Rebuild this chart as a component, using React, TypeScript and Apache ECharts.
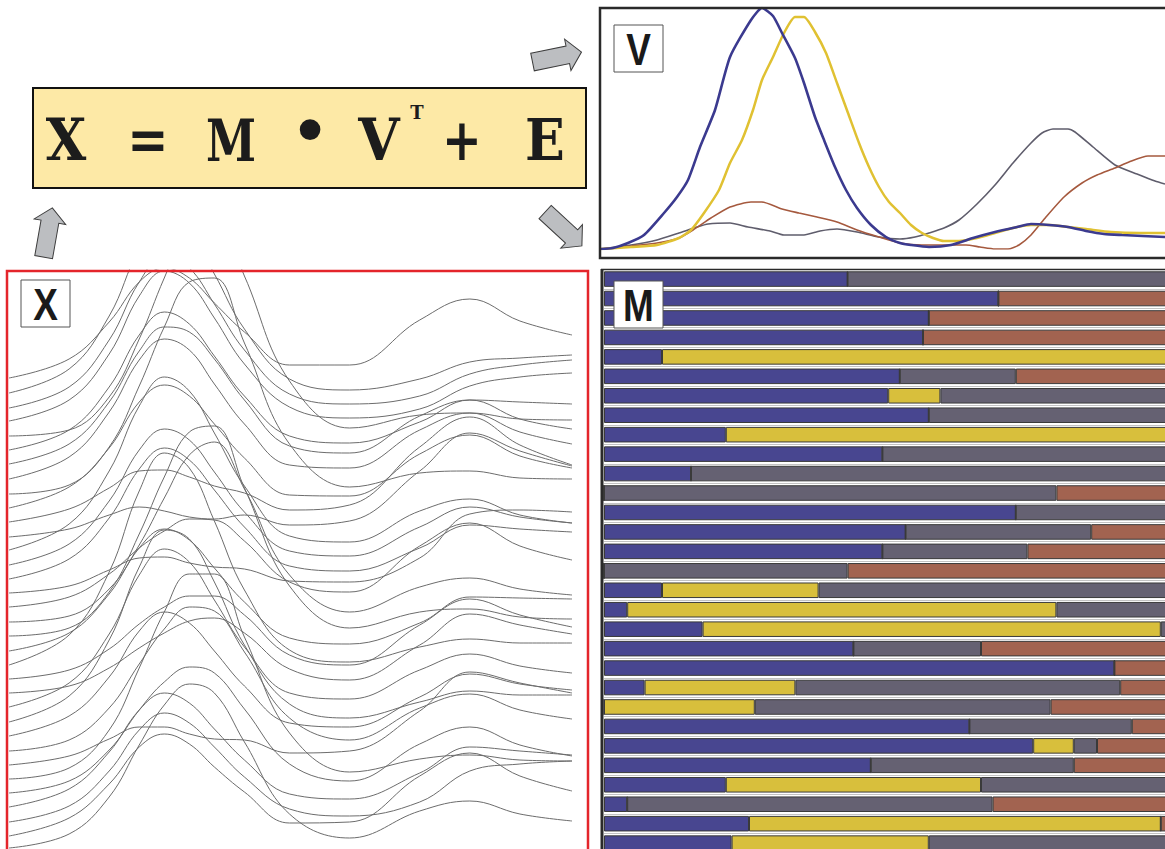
import React, { useEffect, useRef } from "react";
import * as echarts from "echarts";

// ---------- X panel: measured spectra (sample channel positions) ----------
const X_POS = [0, 60, 100, 130, 155, 180, 205, 235, 280, 340, 410, 460, 510, 562];
const X_SPECTRA = [
  [471, 490, 527, 567, 581, 571, 546, 517, 484, 484, 529, 550, 528, 514],
  [456, 480, 533, 600, 631, 617, 575, 520, 470, 459, 470, 487, 491, 494],
  [441, 462, 509, 567, 593, 581, 545, 499, 455, 445, 453, 475, 484, 489],
  [428, 449, 495, 553, 578, 566, 531, 485, 442, 431, 440, 463, 472, 476],
  [413, 419, 452, 510, 571, 624, 637, 573, 468, 421, 434, 436, 430, 429],
  [399, 419, 462, 514, 537, 525, 493, 453, 413, 406, 427, 449, 447, 445],
  [385, 405, 447, 498, 522, 517, 490, 449, 403, 396, 433, 449, 430, 420],
  [370, 392, 437, 489, 510, 499, 465, 425, 384, 381, 419, 436, 417, 405],
  [355, 364, 402, 463, 522, 567, 571, 506, 405, 362, 376, 378, 371, 370],
  [341, 362, 401, 447, 464, 453, 425, 391, 354, 353, 395, 414, 393, 381],
  [327, 340, 361, 378, 379, 372, 363, 356, 339, 344, 402, 432, 404, 384],
  [312, 320, 334, 342, 338, 332, 330, 334, 324, 328, 378, 416, 398, 383],
  [299, 325, 378, 443, 472, 458, 416, 363, 313, 307, 338, 350, 334, 326],
  [284, 305, 348, 399, 420, 409, 377, 337, 298, 293, 322, 342, 332, 326],
  [270, 290, 331, 380, 401, 389, 359, 322, 283, 278, 301, 324, 320, 317],
  [256, 263, 279, 291, 292, 286, 282, 280, 268, 267, 291, 335, 339, 337],
  [242, 252, 275, 301, 318, 330, 329, 308, 267, 257, 303, 326, 303, 289],
  [227, 233, 260, 304, 351, 394, 407, 360, 274, 237, 262, 271, 260, 254],
  [213, 221, 257, 315, 372, 417, 423, 361, 263, 221, 237, 240, 232, 230],
  [198, 216, 255, 301, 320, 309, 281, 247, 211, 205, 226, 252, 251, 250],
  [184, 214, 277, 358, 396, 381, 328, 259, 199, 187, 202, 210, 206, 206],
  [170, 179, 200, 225, 242, 253, 253, 234, 194, 184, 224, 250, 234, 222],
  [156, 163, 181, 201, 216, 228, 231, 216, 180, 169, 204, 235, 224, 215],
  [142, 166, 215, 274, 300, 287, 249, 202, 156, 150, 179, 195, 183, 176],
  [127, 153, 209, 282, 319, 310, 267, 204, 145, 131, 147, 158, 154, 154],
  [113, 133, 172, 218, 237, 226, 198, 163, 126, 122, 152, 175, 165, 159],
  [98, 109, 141, 185, 220, 242, 238, 197, 131, 109, 141, 155, 139, 130],
  [84, 93, 110, 122, 122, 115, 110, 109, 96, 98, 138, 177, 166, 156],
  [70, 81, 119, 181, 237, 275, 275, 212, 116, 77, 90, 94, 89, 88],
  [56, 68, 99, 139, 167, 182, 176, 140, 85, 68, 105, 122, 104, 93],
  [42, 60, 97, 139, 156, 146, 120, 89, 55, 50, 76, 102, 98, 94],
  [27, 43, 78, 119, 136, 126, 102, 72, 40, 33, 47, 78, 85, 88],
  [13, 31, 65, 102, 115, 105, 82, 57, 26, 27, 73, 96, 73, 58],
  [1, 15, 52, 104, 144, 165, 156, 107, 35, 11, 38, 48, 35, 28],
];

// ---------- V panel: component spectra [channel, intensity] ----------
const V_BLUE = [[0,0],[12,1],[27,6],[43,14],[63,36],[76,52],[87,69],[99,102],[114,139],[129,192],[150,229],[161,241],[172,233],[181,216],[194,191],[203,166],[214,132],[223,109],[234,82],[245,59],[256,41],[270,24],[285,12],[299,6],[310,4],[328,2],[350,4],[372,11],[394,17],[416,22],[430,25],[448,24],[467,22],[485,18],[503,15],[521,14],[564,12]];
const V_YELLOW = [[0,0],[30,2],[56,4],[78,11],[90,19],[103,36],[118,59],[129,86],[141,109],[152,139],[161,169],[172,192],[183,216],[194,232],[203,232],[214,217],[225,196],[236,166],[247,136],[258,106],[268,82],[278,62],[288,47],[299,36],[310,24],[321,16],[332,11],[343,8],[358,8],[376,11],[394,16],[412,21],[430,24],[448,24],[467,22],[485,20],[510,17],[539,16],[564,16]];
const V_BROWN = [[0,0],[30,3],[56,6],[78,11],[92,19],[110,31],[129,42],[150,47],[161,47],[181,40],[198,36],[216,32],[236,27],[256,19],[278,12],[299,6],[321,4],[343,4],[365,4],[379,2],[394,0],[407,0],[418,4],[430,14],[445,32],[463,52],[481,66],[496,74],[514,81],[528,87],[547,93],[564,93]];
const V_GRAY = [[0,0],[30,4],[56,9],[78,16],[96,22],[107,25],[129,26],[147,22],[169,18],[183,14],[203,14],[219,18],[236,20],[256,17],[278,12],[299,10],[314,12],[328,16],[343,21],[358,29],[376,45],[394,64],[412,86],[430,106],[441,116],[452,120],[467,120],[474,117],[492,102],[514,84],[536,75],[554,68],[564,65]];

// ---------- M panel: component fractions per sample ----------
const M_ROWS = Array.from({ length: 34 }, (_, i) => String(i + 1));
const M_BLUE = [0.42,0.68,0.56,0.55,0.10,0.51,0.49,0.56,0.21,0.48,0.15,0,0.71,0.52,0.48,0,0.10,0.04,0.17,0.43,0.88,0.07,0,0.63,0.74,0.46,0.21,0.04,0.25,0.22,0.40,0.35,0.38,0.30];
const M_YELLOW = [0,0,0,0,0.90,0,0.09,0,0.79,0,0,0,0,0,0,0,0.27,0.74,0.79,0,0,0.26,0.26,0,0.07,0,0.44,0,0.71,0.34,0,0,0,0.45];
const M_GRAY = [0.58,0,0,0,0,0.20,0.42,0.44,0,0.52,0.85,0.78,0.29,0.32,0.25,0.42,0.63,0.22,0.04,0.22,0,0.56,0.51,0.28,0.04,0.35,0.35,0.63,0,0.44,0.30,0.15,0.62,0.25];
const M_BROWN = [0,0.32,0.44,0.45,0,0.29,0,0,0,0,0,0.22,0,0.16,0.27,0.58,0,0,0,0.35,0.12,0.11,0.23,0.09,0.15,0.19,0,0.33,0.04,0,0.30,0.50,0,0];

const C_BLUE = "#484690";
const C_YELLOW = "#d8bf3c";
const C_GRAY = "#656172";
const C_BROWN = "#a26350";

const ARROW = [[-25, -9], [11, -9], [11, -16], [25, 0], [11, 16], [11, 9], [-25, 9]];

function labelBox(x: number, y: number, t: string) {
  return [
    { type: "rect", z: 20, shape: { x, y, width: 49, height: 47 }, style: { fill: "#fff", stroke: "#555", lineWidth: 1 } },
    {
      type: "text", z: 21, x: x + 24.5, y: y + 24.5, scaleX: 0.84,
      style: { text: t, fontSize: 44, fontWeight: "bold", fontFamily: "Liberation Sans", fill: "#1a1a1a", align: "center", verticalAlign: "middle", textAlign: "center", textVerticalAlign: "middle" },
    },
  ];
}

function eqText(x: number, y: number, t: string, size: number, sx = 1, font = "DejaVu Serif") {
  return {
    type: "text", z: 12, x, y, scaleX: sx,
    style: { text: t, fontSize: size, fontWeight: "bold", fontFamily: font, fill: "#1c1c1c", align: "center", verticalAlign: "middle", textAlign: "center", textVerticalAlign: "middle" },
  };
}

function arrow(x: number, y: number, deg: number) {
  return {
    type: "polygon", z: 12, x, y, rotation: (deg * Math.PI) / 180,
    shape: { points: ARROW },
    style: { fill: "#bcbec1", stroke: "#3c3c3c", lineWidth: 1 },
  };
}

export default function App() {
  const ref = useRef<HTMLDivElement>(null);
  useEffect(() => {
    const chart = echarts.init(ref.current as HTMLDivElement, null, { renderer: "svg" });
    const xSeries = X_SPECTRA.map((row, i) => ({
      type: "line", name: "X" + (i + 1), xAxisIndex: 0, yAxisIndex: 0,
      data: X_POS.map((x, j) => [x, row[j]]),
      smooth: 0.4, symbol: "none", silent: true,
      lineStyle: { color: "#6c6c6c", width: 1 },
    }));
    const vLine = (name: string, data: number[][], color: string, width: number) => ({
      type: "line", name, xAxisIndex: 1, yAxisIndex: 1, data, smooth: 0.2, symbol: "none", silent: true,
      lineStyle: { color, width },
    });
    const mBar = (name: string, data: number[], color: string) => ({
      type: "bar", name, xAxisIndex: 2, yAxisIndex: 2, stack: "m", data, barCategoryGap: "20%", silent: true,
      itemStyle: { color, borderColor: "#3a3a3a", borderWidth: 1 },
    });
    const option = {
      animation: false,
      grid: [
        { left: 9, top: 270, width: 563, height: 579, outerBoundsMode: "none" },
        { left: 601, top: 8, width: 564, height: 241, outerBoundsMode: "none" },
        { left: 604, top: 269.35, width: 580, height: 661.3, outerBoundsMode: "none" },
      ],
      xAxis: [
        { gridIndex: 0, type: "value", min: 0, max: 562, show: false },
        { gridIndex: 1, type: "value", min: 0, max: 564, show: false },
        { gridIndex: 2, type: "value", min: 0, max: 1, show: false },
      ],
      yAxis: [
        { gridIndex: 0, type: "value", min: 0, max: 579, show: false },
        { gridIndex: 1, type: "value", min: 0, max: 241, show: false },
        {
          gridIndex: 2, type: "category", data: M_ROWS, inverse: true,
          axisLine: { show: false }, axisTick: { show: false }, axisLabel: { show: false },
          splitLine: { show: true, lineStyle: { color: "#c2c2c2", width: 1 } },
        },
      ],
      series: [
        ...xSeries,
        vLine("V4", V_GRAY, "#5f5d6c", 1.6),
        vLine("V3", V_BROWN, "#a5593e", 1.6),
        vLine("V2", V_YELLOW, "#e0c132", 2.5),
        vLine("V1", V_BLUE, "#3b3a8f", 2.6),
        mBar("M1", M_BLUE, C_BLUE),
        mBar("M2", M_YELLOW, C_YELLOW),
        mBar("M3", M_GRAY, C_GRAY),
        mBar("M4", M_BROWN, C_BROWN),
      ],
      graphic: {
        elements: [
          // equation
          { type: "rect", z: 10, shape: { x: 33, y: 88, width: 553, height: 100 }, style: { fill: "#fde9a6", stroke: "#111", lineWidth: 2 } },
          eqText(66, 140, "X", 58, 0.9),
          eqText(148, 140, "=", 58, 0.85),
          eqText(231, 140, "M", 58, 0.78),
          eqText(310, 128, "•", 72, 1, "Liberation Sans"),
          eqText(379, 140, "V", 58, 0.92),
          eqText(417, 112, "T", 18),
          eqText(462, 140, "+", 58, 0.82),
          eqText(545, 140, "E", 58, 0.9),
          // arrows
          arrow(557, 57, 11.5),
          arrow(563.5, 229, -42.6),
          arrow(48, 232.5, 80),
          // frames
          { type: "rect", z: 15, shape: { x: 7, y: 271, width: 581, height: 620 }, style: { fill: "none", stroke: "#e4252b", lineWidth: 2.5 } },
          { type: "rect", z: 15, shape: { x: 600, y: 8, width: 620, height: 250 }, style: { fill: "none", stroke: "#2a2a2a", lineWidth: 2.5 } },
          { type: "line", z: 15, shape: { x1: 602, y1: 269, x2: 602, y2: 880 }, style: { stroke: "#2a2a2a", lineWidth: 3 } },
          { type: "line", z: 15, shape: { x1: 601, y1: 269.5, x2: 1170, y2: 269.5 }, style: { stroke: "#2a2a2a", lineWidth: 1.5 } },
          // panel labels
          ...labelBox(21, 280, "X"),
          ...labelBox(614, 25, "V"),
          ...labelBox(614, 281, "M"),
        ],
      },
    };
    chart.setOption(option as any);
    return () => chart.dispose();
  }, []);
  return (
    <div
      ref={ref}
      style={{ position: "absolute", left: 0, top: 0, width: 1165, height: 849, background: "#fff", overflow: "hidden" }}
    />
  );
}
